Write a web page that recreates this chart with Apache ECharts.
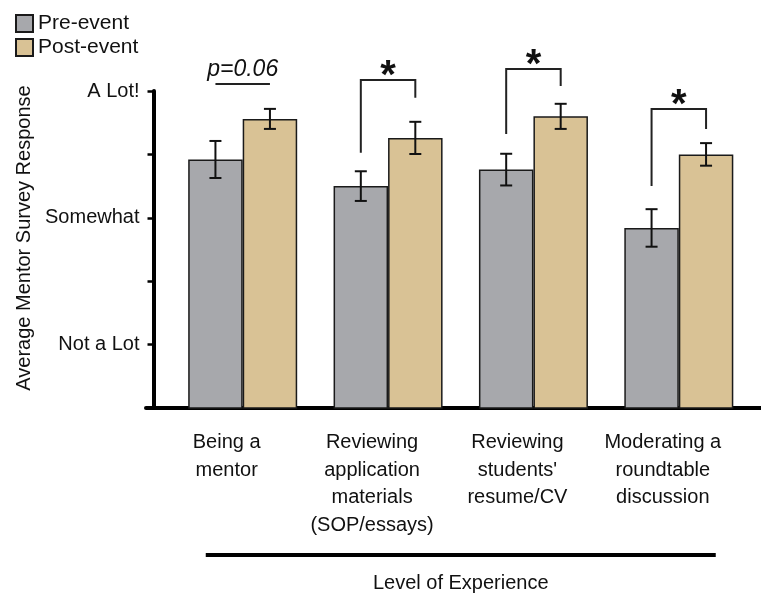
<!DOCTYPE html>
<html><head><meta charset="utf-8">
<script src="https://cdn.jsdelivr.net/npm/echarts@6/dist/echarts.min.js"></script>
<style>html,body{margin:0;padding:0;background:#fff}#c{width:761px;height:594px}</style>
</head><body><div id="c"></div>
<script>
const categories = ['Being a\nmentor', 'Reviewing\napplication\nmaterials\n(SOP/essays)', "Reviewing\nstudents'\nresume/CV", 'Moderating a\nroundtable\ndiscussion'];
const seriesNames = ['Pre-event', 'Post-event'];
const preValues = [2.46, 2.25, 2.38, 1.92];
const postValues = [2.78, 2.63, 2.80, 2.50];
const preErrors = [0.146, 0.117, 0.125, 0.148];
const postErrors = [0.079, 0.127, 0.099, 0.089];
const yTickValues = [1, 2, 3];
const yTickLabels = ['Not a Lot', 'Somewhat', 'A Lot!'];
const sigLabels = ['p=0.06', '*', '*', '*'];
const bracketTops = [3.055, 3.087, 3.173, 2.858];
const bracketLeftEnds = [3.055, 2.513, 2.661, 2.251];
const bracketRightEnds = [3.055, 2.947, 3.04, 2.70];
const yAxisTitle = 'Average Mentor Survey Response';
const xAxisTitle = 'Level of Experience';

const FONT = '"Liberation Sans", Arial, Helvetica, sans-serif';
const BAR_W = 54.5;
const TXT = '#111';

const chart = echarts.init(document.getElementById('c'), null, {renderer: 'canvas'});

const errData = [];
preValues.forEach((v, i) => errData.push([i, v, preErrors[i], 0]));
postValues.forEach((v, i) => errData.push([i, v, postErrors[i], 1]));
const bracketData = categories.map((c, i) => [i, bracketTops[i], bracketLeftEnds[i], bracketRightEnds[i]]);

function renderErr(params, api) {
  const i = api.value(0), v = api.value(1), e = api.value(2), s = api.value(3);
  const hi = api.coord([i, v + e]), lo = api.coord([i, v - e]);
  const x = hi[0] + (s === 0 ? -BAR_W / 2 : BAR_W / 2);
  const cap = 6;
  const style = {stroke: '#111', lineWidth: 2, fill: null};
  return {type: 'group', children: [
    {type: 'line', shape: {x1: x, y1: hi[1], x2: x, y2: lo[1]}, style: style},
    {type: 'line', shape: {x1: x - cap, y1: hi[1], x2: x + cap, y2: hi[1]}, style: style},
    {type: 'line', shape: {x1: x - cap, y1: lo[1], x2: x + cap, y2: lo[1]}, style: style}
  ]};
}

function renderBracket(params, api) {
  const i = api.value(0);
  const top = api.coord([i, api.value(1)]);
  const l = api.coord([i, api.value(2)]);
  const r = api.coord([i, api.value(3)]);
  const xl = top[0] - BAR_W / 2, xr = top[0] + BAR_W / 2;
  const label = sigLabels[params.dataIndex];
  const isStar = label === '*';
  return {type: 'group', children: [
    {type: 'polyline', shape: {points: [[xl, l[1]], [xl, top[1]], [xr, top[1]], [xr, r[1]]]},
     style: {stroke: '#222', lineWidth: 2, fill: null}},
    {type: 'text', x: top[0], y: isStar ? top[1] - 3 : top[1] - 3,
     style: {text: label, fontFamily: FONT, fontSize: isStar ? 40 : 23,
             fontWeight: isStar ? 'bold' : 'normal', fontStyle: isStar ? 'normal' : 'italic',
             align: 'center', verticalAlign: isStar ? 'middle' : 'bottom', fill: TXT}}
  ]};
}

const option = {
  animation: false,
  backgroundColor: '#fff',
  textStyle: {fontFamily: FONT},
  legend: {
    data: seriesNames, orient: 'vertical', left: 15, top: 13, padding: 0,
    itemWidth: 17, itemHeight: 17, itemGap: 3, icon: 'rect',
    textStyle: {fontSize: 21, color: TXT, fontFamily: FONT}
  },
  grid: [
    {left: 170, right: 9.5, top: 91, bottom: 186, outerBoundsMode: 'none', containLabel: false},
    {left: 146, right: 0, top: 91, bottom: 186, outerBoundsMode: 'none', containLabel: false}
  ],
  xAxis: [
    {
      type: 'category', gridIndex: 0, data: categories,
      axisLine: {show: false}, axisTick: {show: false},
      axisLabel: {interval: 0, fontSize: 20, lineHeight: 27.5, margin: 21, color: TXT,
                  fontFamily: FONT, padding: [0, 32, 0, 0]},
      name: '{l|}\n{t|' + xAxisTitle + '}',
      nameLocation: 'middle', nameGap: 145,
      nameTextStyle: {
        rich: {
          l: {width: 510, height: 4, lineHeight: 4, backgroundColor: '#000'},
          t: {fontSize: 20, lineHeight: 52, color: TXT, fontFamily: FONT}
        }
      }
    },
    {
      type: 'value', gridIndex: 1, min: 0, max: 1,
      axisLine: {show: true, lineStyle: {color: '#000', width: 4}},
      axisTick: {show: false}, axisLabel: {show: false}, splitLine: {show: false}
    }
  ],
  yAxis: [
    {
      type: 'value', gridIndex: 0, min: 0.5, max: 3, interval: 0.5, offset: 16.5,
      axisLine: {show: true, lineStyle: {color: '#000', width: 4}},
      axisTick: {show: true, length: 6, lineStyle: {color: '#000', width: 2.5}},
      splitLine: {show: false},
      axisLabel: {
        fontSize: 20, margin: 14, color: TXT, fontFamily: FONT,
        formatter: function (v) { const k = yTickValues.indexOf(v); return k >= 0 ? yTickLabels[k] : ''; }
      },
      name: yAxisTitle, nameLocation: 'middle', nameGap: 119,
      nameTextStyle: {fontSize: 20, color: TXT, fontFamily: FONT, padding: [0, 0, 0, 23]}
    },
    {type: 'value', gridIndex: 1, min: 0.5, max: 3, show: false}
  ],
  series: [
    {
      name: seriesNames[0], type: 'bar', xAxisIndex: 0, yAxisIndex: 0, data: preValues,
      barWidth: BAR_W, barGap: '0%',
      itemStyle: {color: '#a7a8ac', borderColor: '#1a1a1a', borderWidth: 1.5}
    },
    {
      name: seriesNames[1], type: 'bar', xAxisIndex: 0, yAxisIndex: 0, data: postValues,
      barWidth: BAR_W, barGap: '0%',
      itemStyle: {color: '#d9c295', borderColor: '#1a1a1a', borderWidth: 1.5}
    },
    {
      type: 'custom', xAxisIndex: 0, yAxisIndex: 0, data: errData, renderItem: renderErr, z: 5
    },
    {
      type: 'custom', xAxisIndex: 0, yAxisIndex: 0, data: bracketData, renderItem: renderBracket, z: 5, clip: false
    }
  ]
};
chart.setOption(option);
</script>
</body></html>
